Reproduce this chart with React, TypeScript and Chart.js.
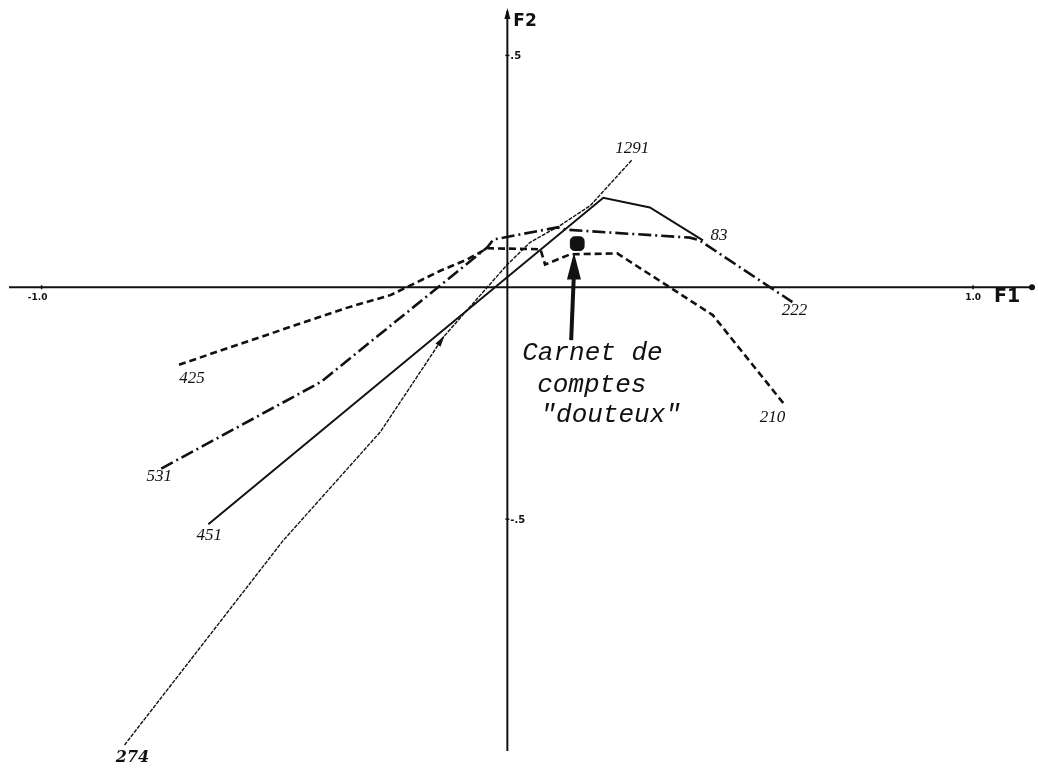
import React, { useEffect, useRef } from "react";
import { Chart, registerables } from "chart.js";

Chart.register(...registerables);

// ---- Data (F1 / F2 coordinates) ----
// short-dashed trajectory, 425 -> 210
const dashedX = [-0.705, -0.347, -0.251, -0.208, -0.143, -0.086, -0.043, 0.071, 0.081, 0.135, 0.236, 0.441, 0.595];
const dashedY = [-0.167, -0.045, -0.017, 0.004, 0.036, 0.06, 0.084, 0.082, 0.049, 0.071, 0.073, -0.06, -0.253];
const dashedLabels = ["425", "210"];

// dash-dot trajectory, 531 -> 222
const dashDotX = [-0.743, -0.4, -0.043, -0.03, 0.028, 0.107, 0.128, 0.392, 0.413, 0.612];
const dashDotY = [-0.391, -0.204, 0.086, 0.103, 0.114, 0.129, 0.124, 0.107, 0.101, -0.032];
const dashDotLabels = ["531", "222"];

// solid trajectory, 451 -> 83
const solidX = [-0.642, 0.206, 0.306, 0.42];
const solidY = [-0.511, 0.193, 0.172, 0.101];
const solidLabels = ["451", "83"];

// dotted trajectory, 274 -> 1291
const dottedX = [-0.822, -0.482, -0.272, -0.137, 0.0, 0.049, 0.113, 0.178, 0.268];
const dottedY = [-0.987, -0.547, -0.311, -0.107, 0.049, 0.097, 0.133, 0.176, 0.275];
const dottedLabels = ["274", "1291"];

// the "doubtful" account book
const doubtfulX = [0.15];
const doubtfulY = [0.094];
const annotationLines = ["Carnet de", "comptes", "\"douteux\""];

// axes
const xTickValues = [-1, 1];
const xTickLabels = ["-1.0", "1.0"];
const yTickValues = [0.5, -0.5];
const yTickLabels = [".5", "-.5"];
const xAxisTitle = "F1";
const yAxisTitle = "F2";

const X_MIN = -1.07;
const X_MAX = 1.12;
const Y_MIN = -1.0;
const Y_MAX = 0.6;

const toPoints = (xs: number[], ys: number[]) => xs.map((v, i) => ({ x: v, y: ys[i] }));

// label offsets (pixels) from the first / last point of each series
const labelOffsets: Record<string, [number, number]> = {
  "425": [13, 14],
  "210": [-12, 13],
  "531": [-2, 8],
  "222": [2, 8],
  "451": [1, 11],
  "83": [16, -5],
  "274": [8, 13],
  "1291": [0, -11],
};

const overlayPlugin = {
  id: "overlay",
  beforeDatasetsDraw(chart: any) {
    const { ctx } = chart;
    const xs = chart.scales.x;
    const ys = chart.scales.y;
    const X = (v: number) => xs.getPixelForValue(v);
    const Y = (v: number) => ys.getPixelForValue(v);
    const x0 = X(0);
    const y0 = Y(0);
    ctx.save();
    ctx.strokeStyle = "#111";
    ctx.fillStyle = "#111";
    ctx.lineWidth = 2;
    // horizontal axis
    ctx.beginPath();
    ctx.moveTo(X(X_MIN), y0);
    ctx.lineTo(X(X_MAX) + 3, y0);
    ctx.stroke();
    // right end mark
    ctx.beginPath();
    ctx.arc(X(X_MAX) + 3, y0, 3, 0, Math.PI * 2);
    ctx.fill();
    // vertical axis
    ctx.beginPath();
    ctx.moveTo(x0, Y(Y_MAX) + 2);
    ctx.lineTo(x0, Y(Y_MIN));
    ctx.stroke();
    // top arrow
    ctx.beginPath();
    ctx.moveTo(x0, Y(Y_MAX) - 1);
    ctx.lineTo(x0 - 3, Y(Y_MAX) + 10);
    ctx.lineTo(x0 + 3, Y(Y_MAX) + 10);
    ctx.closePath();
    ctx.fill();

    // ticks
    ctx.lineWidth = 1.5;
    xTickValues.forEach((v) => {
      ctx.beginPath();
      ctx.moveTo(X(v), y0 - 2);
      ctx.lineTo(X(v), y0 + 2);
      ctx.stroke();
    });
    yTickValues.forEach((v) => {
      ctx.beginPath();
      ctx.moveTo(x0 - 2, Y(v));
      ctx.lineTo(x0 + 2, Y(v));
      ctx.stroke();
    });

    // tick labels
    ctx.font = "bold 9px 'DejaVu Sans'";
    ctx.textBaseline = "middle";
    ctx.textAlign = "center";
    xTickValues.forEach((v, i) => {
      ctx.fillText(xTickLabels[i], X(v) - (v < 0 ? 4 : 0), y0 + 10);
    });
    ctx.textAlign = "left";
    ctx.font = "bold 10px 'DejaVu Sans'";
    yTickValues.forEach((v, i) => {
      ctx.fillText(yTickLabels[i], x0 + 3, Y(v) + 1);
    });

    // axis titles
    ctx.font = "bold 19px 'DejaVu Sans'";
    ctx.textAlign = "left";
    ctx.fillText(xAxisTitle, X(X_MAX) - 35, y0 + 10);
    ctx.font = "bold 17px 'DejaVu Sans'";
    ctx.fillText(yAxisTitle, x0 + 6, Y(Y_MAX) + 13);
    ctx.restore();
  },
  afterDatasetsDraw(chart: any) {
    const { ctx } = chart;
    const xs = chart.scales.x;
    const ys = chart.scales.y;
    const X = (v: number) => xs.getPixelForValue(v);
    const Y = (v: number) => ys.getPixelForValue(v);
    ctx.save();
    ctx.fillStyle = "#111";
    ctx.strokeStyle = "#111";

    // series end labels
    const series: [number[], number[], string[]][] = [
      [dashedX, dashedY, dashedLabels],
      [dashDotX, dashDotY, dashDotLabels],
      [solidX, solidY, solidLabels],
      [dottedX, dottedY, dottedLabels],
    ];
    ctx.textAlign = "center";
    ctx.textBaseline = "middle";
    series.forEach(([sx, sy, labels]) => {
      const ends = [0, sx.length - 1];
      ends.forEach((idx, k) => {
        const lab = labels[k];
        const off = labelOffsets[lab] || [0, 0];
        ctx.font = lab === "274" ? "italic bold 16px 'DejaVu Serif'" : "italic 17px 'Liberation Serif'";
        ctx.fillText(lab, X(sx[idx]) + off[0], Y(sy[idx]) + off[1]);
      });
    });

    // arrowhead on the dotted trajectory
    {
      const i = 3;
      const px = X(dottedX[i]);
      const py = Y(dottedY[i]);
      const ang = Math.atan2(py - Y(dottedY[i - 1]), px - X(dottedX[i - 1]));
      ctx.save();
      ctx.translate(px, py);
      ctx.rotate(ang);
      ctx.beginPath();
      ctx.moveTo(2, 0);
      ctx.lineTo(-10, -3);
      ctx.lineTo(-10, 3);
      ctx.closePath();
      ctx.fill();
      ctx.restore();
    }

    // annotation arrow pointing to the doubtful account book
    const ax = doubtfulX[0];
    const bottom = { x: X(ax - 0.013), y: Y(-0.114) };
    const tip = { x: X(ax - 0.007), y: Y(0.075) };
    ctx.lineWidth = 4;
    ctx.beginPath();
    ctx.moveTo(bottom.x, bottom.y);
    ctx.lineTo(tip.x, tip.y + 20);
    ctx.stroke();
    ctx.beginPath();
    ctx.moveTo(tip.x, tip.y);
    ctx.lineTo(tip.x - 7, tip.y + 27);
    ctx.lineTo(tip.x + 7, tip.y + 27);
    ctx.closePath();
    ctx.fill();

    // annotation text
    ctx.font = "italic 26px 'Liberation Mono'";
    ctx.textAlign = "left";
    ctx.textBaseline = "alphabetic";
    const textLeft = [0.032, 0.064, 0.071];
    const textBase = [-0.157, -0.225, -0.29];
    annotationLines.forEach((t, i) => {
      ctx.fillText(t, X(textLeft[i]), Y(textBase[i]));
    });
    ctx.restore();
  },
};

export default function App() {
  const canvasRef = useRef<HTMLCanvasElement | null>(null);

  useEffect(() => {
    const canvas = canvasRef.current;
    if (!canvas) return;
    const chart = new Chart(canvas, {
      type: "scatter",
      data: {
        datasets: [
          {
            label: "425-210",
            data: toPoints(dashedX, dashedY),
            showLine: true,
            borderColor: "#111",
            borderWidth: 2.6,
            borderDash: [7, 4],
            pointRadius: 0,
            tension: 0,
          },
          {
            label: "531-222",
            data: toPoints(dashDotX, dashDotY),
            showLine: true,
            borderColor: "#111",
            borderWidth: 2.6,
            borderDash: [13, 4, 2, 4],
            pointRadius: 0,
            tension: 0,
          },
          {
            label: "451-83",
            data: toPoints(solidX, solidY),
            showLine: true,
            borderColor: "#111",
            borderWidth: 2,
            pointRadius: 0,
            tension: 0,
          },
          {
            label: "274-1291",
            data: toPoints(dottedX, dottedY),
            showLine: true,
            borderColor: "#111",
            borderWidth: 1.4,
            borderDash: [4, 1.2],
            pointRadius: 0,
            tension: 0,
          },
          {
            label: "Carnet de comptes douteux",
            data: toPoints(doubtfulX, doubtfulY),
            showLine: false,
            pointStyle: "rectRounded",
            pointRadius: 8,
            backgroundColor: "#111",
            borderColor: "#111",
          },
        ],
      },
      options: {
        animation: false,
        responsive: false,
        maintainAspectRatio: false,
        layout: { padding: { left: 7.3, right: 8, top: 5.4, bottom: 21 } },
        plugins: { legend: { display: false }, tooltip: { enabled: false } },
        scales: {
          x: { type: "linear", min: X_MIN, max: X_MAX, display: false },
          y: { type: "linear", min: Y_MIN, max: Y_MAX, display: false },
        },
      },
      plugins: [overlayPlugin],
    });
    return () => chart.destroy();
  }, []);

  return (
    <div style={{ position: "fixed", left: 0, top: 0, width: 1038, height: 772, background: "#fff" }}>
      <canvas ref={canvasRef} width={1038} height={772} style={{ width: 1038, height: 772 }} />
    </div>
  );
}
